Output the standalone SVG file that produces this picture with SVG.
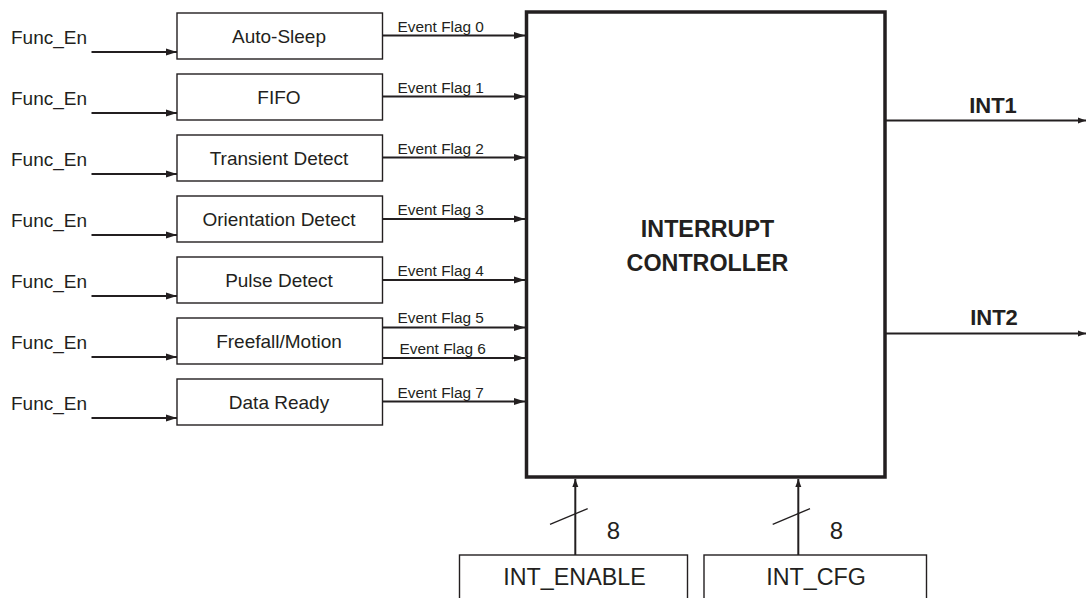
<svg xmlns="http://www.w3.org/2000/svg" width="1086" height="598" viewBox="0 0 1086 598">
<style>
text{font-family:"Liberation Sans",Arial,sans-serif;fill:#231f20}
.box{fill:#fff;stroke:#231f20;stroke-width:1.4}
.lbl{font-size:19px;text-anchor:middle}
.fe{font-size:19px}
.ef{font-size:15.4px}
.w{stroke:#231f20;stroke-width:2;fill:none}
.big{font-size:23.3px;font-weight:bold;text-anchor:middle}
.intn{font-size:22px;font-weight:bold;text-anchor:middle}
.bot{font-size:23.3px;text-anchor:middle}
.num{font-size:24px;text-anchor:middle}
</style>
<defs>
<marker id="ah" viewBox="0 0 11 8" refX="11" refY="4" markerWidth="11" markerHeight="8" orient="auto" markerUnits="userSpaceOnUse">
<path d="M0,0.5 L11,4 L0,7.5 z" fill="#231f20"/>
</marker>
<marker id="ahs" viewBox="0 0 8 8" refX="8" refY="4" markerWidth="8" markerHeight="8" orient="auto" markerUnits="userSpaceOnUse">
<path d="M0,1 L8,4 L0,7 z" fill="#231f20"/>
</marker>
</defs>
<rect width="1086" height="598" fill="#fff"/>

<g id="controller">
<rect x="526.5" y="12" width="358.5" height="465" fill="#fff" stroke="#231f20" stroke-width="3.5"/>
<text class="big" x="707.5" y="236.5">INTERRUPT</text>
<text class="big" x="707.5" y="271">CONTROLLER</text>
</g>

<g id="auto-sleep"><rect class="box" x="177" y="13" width="205.5" height="46"/><text class="lbl" x="279" y="42.5">Auto-Sleep</text></g>
<g id="fifo"><rect class="box" x="177" y="74" width="205.5" height="46"/><text class="lbl" x="279" y="103.5">FIFO</text></g>
<g id="transient"><rect class="box" x="177" y="135" width="205.5" height="46"/><text class="lbl" x="279" y="164.5">Transient Detect</text></g>
<g id="orientation"><rect class="box" x="177" y="196" width="205.5" height="46"/><text class="lbl" x="279" y="225.5">Orientation Detect</text></g>
<g id="pulse"><rect class="box" x="177" y="257" width="205.5" height="46"/><text class="lbl" x="279" y="286.5">Pulse Detect</text></g>
<g id="freefall"><rect class="box" x="177" y="318" width="205.5" height="46"/><text class="lbl" x="279" y="347.5">Freefall/Motion</text></g>
<g id="data-ready"><rect class="box" x="177" y="379" width="205.5" height="46"/><text class="lbl" x="279" y="408.5">Data Ready</text></g>

<g id="int-enable"><rect class="box" x="459.5" y="555" width="228" height="50"/><text class="bot" x="574.5" y="585">INT_ENABLE</text></g>
<g id="int-cfg"><rect class="box" x="704" y="555" width="222.5" height="50"/><text class="bot" x="816" y="585">INT_CFG</text></g>

<g id="labels">
<text class="fe" x="11" y="43.5">Func_En</text>
<text class="fe" x="11" y="104.5">Func_En</text>
<text class="fe" x="11" y="165.5">Func_En</text>
<text class="fe" x="11" y="226.5">Func_En</text>
<text class="fe" x="11" y="287.5">Func_En</text>
<text class="fe" x="11" y="348.5">Func_En</text>
<text class="fe" x="11" y="409.5">Func_En</text>
<text class="ef" x="397.5" y="31.5">Event Flag 0</text>
<text class="ef" x="397.5" y="92.5">Event Flag 1</text>
<text class="ef" x="397.5" y="153.5">Event Flag 2</text>
<text class="ef" x="397.5" y="214.5">Event Flag 3</text>
<text class="ef" x="397.5" y="275.5">Event Flag 4</text>
<text class="ef" x="397.5" y="323">Event Flag 5</text>
<text class="ef" x="399.5" y="354">Event Flag 6</text>
<text class="ef" x="397.5" y="397.5">Event Flag 7</text>
<text class="intn" x="993" y="112.5">INT1</text>
<text class="intn" x="994" y="324.5">INT2</text>
<text class="num" x="613.5" y="539">8</text>
<text class="num" x="836.5" y="539">8</text>
</g>

<g id="connectors">
<line class="w" x1="91.5" y1="52" x2="177" y2="52" marker-end="url(#ah)"/>
<line class="w" x1="91.5" y1="113" x2="177" y2="113" marker-end="url(#ah)"/>
<line class="w" x1="91.5" y1="174" x2="177" y2="174" marker-end="url(#ah)"/>
<line class="w" x1="91.5" y1="235" x2="177" y2="235" marker-end="url(#ah)"/>
<line class="w" x1="91.5" y1="296" x2="177" y2="296" marker-end="url(#ah)"/>
<line class="w" x1="91.5" y1="357" x2="177" y2="357" marker-end="url(#ah)"/>
<line class="w" x1="91.5" y1="418" x2="177" y2="418" marker-end="url(#ah)"/>

<line class="w" x1="382.5" y1="35.5" x2="525" y2="35.5" marker-end="url(#ah)"/>
<line class="w" x1="382.5" y1="96.5" x2="525" y2="96.5" marker-end="url(#ah)"/>
<line class="w" x1="382.5" y1="157.5" x2="525" y2="157.5" marker-end="url(#ah)"/>
<line class="w" x1="382.5" y1="219" x2="525" y2="219" marker-end="url(#ah)"/>
<line class="w" x1="382.5" y1="280" x2="525" y2="280" marker-end="url(#ah)"/>
<line class="w" x1="382.5" y1="327.5" x2="525" y2="327.5" marker-end="url(#ah)"/>
<line class="w" x1="382.5" y1="358" x2="525" y2="358" marker-end="url(#ah)"/>
<line class="w" x1="382.5" y1="401.5" x2="525" y2="401.5" marker-end="url(#ah)"/>

<line class="w" x1="885" y1="120.5" x2="1086" y2="120.5" marker-end="url(#ahs)"/>
<line class="w" x1="885" y1="333.5" x2="1086" y2="333.5" marker-end="url(#ahs)"/>

<line class="w" x1="575.3" y1="555" x2="575.3" y2="479" marker-end="url(#ahs)"/>
<line class="w" x1="798.3" y1="555" x2="798.3" y2="479" marker-end="url(#ahs)"/>
<line stroke="#231f20" stroke-width="1.3" x1="550" y1="524.3" x2="587.7" y2="508.7"/>
<line stroke="#231f20" stroke-width="1.3" x1="772.7" y1="524.3" x2="810" y2="508.7"/>
</g>
</svg>
